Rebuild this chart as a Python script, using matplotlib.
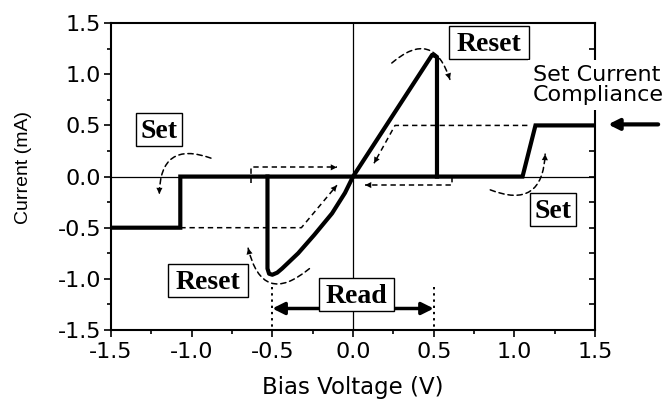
import matplotlib.pyplot as plt
from matplotlib.patches import FancyArrowPatch, Rectangle
from matplotlib.ticker import MultipleLocator
from matplotlib.transforms import ScaledTranslation

# thick I-V trace: compliance / set branch
set_v = [-1.5, -1.07, -1.07, 1.05, 1.13, 1.5]
set_i = [-0.5, -0.5, 0.0, 0.0, 0.5, 0.5]

# reset loop through the origin
reset_v = [-0.53, -0.53, -0.52, -0.50, -0.47, -0.44, -0.34, -0.24, -0.13, -0.05, 0.0, 0.49, 0.52, 0.52]
reset_i = [0.0, -0.90, -0.95, -0.96, -0.94, -0.90, -0.75, -0.57, -0.36, -0.16, 0.0, 1.19, 1.17, 0.0]

# dashed sweep-direction arrows (polyline, arrow at last point)
sweeps = [
    ([-1.07, -0.32, -0.10], [-0.5, -0.5, -0.085]),
    ([-0.63, -0.63, -0.10], [-0.065, 0.09, 0.09]),
    ([0.61, 0.61, 0.075], [0.0, -0.083, -0.083]),
    ([1.08, 0.26, 0.13], [0.5, 0.5, 0.13]),
]

# curved dashed arrows: start, end, bend
arcs = [
    ((0.24, 1.11), (0.60, 0.95), -0.75),
    ((-0.88, 0.18), (-1.20, -0.17), 0.7),
    ((0.85, -0.13), (1.19, 0.22), 0.7),
    ((-0.27, -0.90), (-0.65, -0.70), -0.8),
]

labels = ["Set", "Reset", "Reset", "Set", "Read"]
label_v = [-1.20, 0.84, -0.90, 1.24, 0.02]
label_i = [0.46, 1.315, -1.02, -0.32, -1.15]
box_w = [46, 80, 80, 46, 75]   # px

read_lo, read_hi = -0.5, 0.5

fig = plt.figure(figsize=(6.68, 3.99), dpi=100)
ax = fig.add_axes([0.166, 0.173, 0.725, 0.769])

ax.axhline(0, color="black", lw=0.9, zorder=1)
ax.axvline(0, color="black", lw=0.9, zorder=1)

ax.plot(set_v, set_i, color="black", lw=3, solid_joinstyle="miter", zorder=3)
ax.plot(reset_v, reset_i, color="black", lw=3, solid_joinstyle="round", zorder=3)

dash = (0, (3.5, 2.5))
for xs, ys in sweeps:
    ax.plot(xs, ys, color="black", lw=1.1, linestyle=dash, zorder=4)
    ax.annotate("", xy=(xs[-1], ys[-1]), xytext=(xs[-2], ys[-2]),
                arrowprops=dict(arrowstyle="-|>", color="black", lw=0,
                                mutation_scale=11, shrinkA=0, shrinkB=0), zorder=5)

for start, end, rad in arcs:
    arc = FancyArrowPatch(start, end, connectionstyle="arc3,rad=%s" % rad,
                          arrowstyle="-", color="black", lw=1.1, linestyle=dash,
                          shrinkA=0, shrinkB=0, zorder=4)
    ax.add_patch(arc)
    head = FancyArrowPatch(start, end, connectionstyle="arc3,rad=%s" % rad,
                           arrowstyle="-|>", color="black", lw=0,
                           mutation_scale=11, shrinkA=0, shrinkB=0, zorder=5)
    ax.add_patch(head)

# read window
for v in (read_lo, read_hi):
    ax.plot([v, v], [-1.08, -1.5], color="black", lw=1.4, linestyle=(0, (1.2, 2)),
            clip_on=False, zorder=2)
ax.annotate("", xy=(read_lo, -1.29), xytext=(read_hi, -1.29),
            arrowprops=dict(arrowstyle="<|-|>", color="black", lw=2.5,
                            mutation_scale=18, shrinkA=0, shrinkB=0), zorder=5)

for t, x, y, w in zip(labels, label_v, label_i, box_w):
    tr = fig.dpi_scale_trans + ScaledTranslation(x, y, ax.transData)
    ax.add_patch(Rectangle((-w / 200, -0.165), w / 100, 0.33, transform=tr,
                           fc="white", ec="black", lw=1, zorder=6, clip_on=False))
    ax.annotate(t, (x, y), xytext=(0, -1.5), textcoords="offset points",
                ha="center", va="center", fontsize=20, fontweight="bold",
                family="Liberation Serif", zorder=7)

# compliance note (white background hides the right spine behind it)
ax.text(1.116, 0.895, "Set Current\nCompliance", ha="left", va="center",
        fontsize=16, linespacing=0.95, clip_on=False, zorder=8,
        bbox=dict(boxstyle="square,pad=0.25", fc="white", ec="none"))
ax.annotate("", xy=(1.58, 0.51), xytext=(1.89, 0.51),
            arrowprops=dict(arrowstyle="-|>", color="black", lw=3,
                            mutation_scale=16, shrinkA=0, shrinkB=0),
            annotation_clip=False)

ax.set_xlim(-1.5, 1.5)
ax.set_ylim(-1.5, 1.5)
ax.xaxis.set_major_locator(MultipleLocator(0.5))
ax.xaxis.set_minor_locator(MultipleLocator(0.25))
ax.yaxis.set_major_locator(MultipleLocator(0.5))
ax.yaxis.set_minor_locator(MultipleLocator(0.25))
ax.tick_params(which="both", direction="out", width=1.2, labelsize=16)
ax.tick_params(axis="x", pad=4)
ax.tick_params(axis="y", pad=2)
ax.tick_params(which="major", length=5)
ax.tick_params(which="minor", length=3)
ax.xaxis.set_major_formatter(lambda v, p: "%.1f" % v)
ax.yaxis.set_major_formatter(lambda v, p: "%.1f" % v)
for s in ax.spines.values():
    s.set_linewidth(1.5)

# right side ticks point inward
ax2 = ax.twinx()
ax2.set_ylim(-1.5, 1.5)
ax2.yaxis.set_major_locator(MultipleLocator(0.5))
ax2.yaxis.set_minor_locator(MultipleLocator(0.25))
ax2.tick_params(which="both", direction="in", length=4, width=1.2, labelright=False)
for s in ax2.spines.values():
    s.set_visible(False)
ax2.set_zorder(ax.get_zorder() - 1)
ax.set_frame_on(True)
ax.patch.set_visible(False)

ax.set_xlabel("Bias Voltage (V)", fontsize=16.5)
ax.set_ylabel("Current (mA)", fontsize=14, family="Liberation Sans")
ax.xaxis.set_label_coords(0.5, -0.15)
ax.yaxis.set_label_coords(-0.163, 0.53)

fig.savefig("out.png", dpi=100)
